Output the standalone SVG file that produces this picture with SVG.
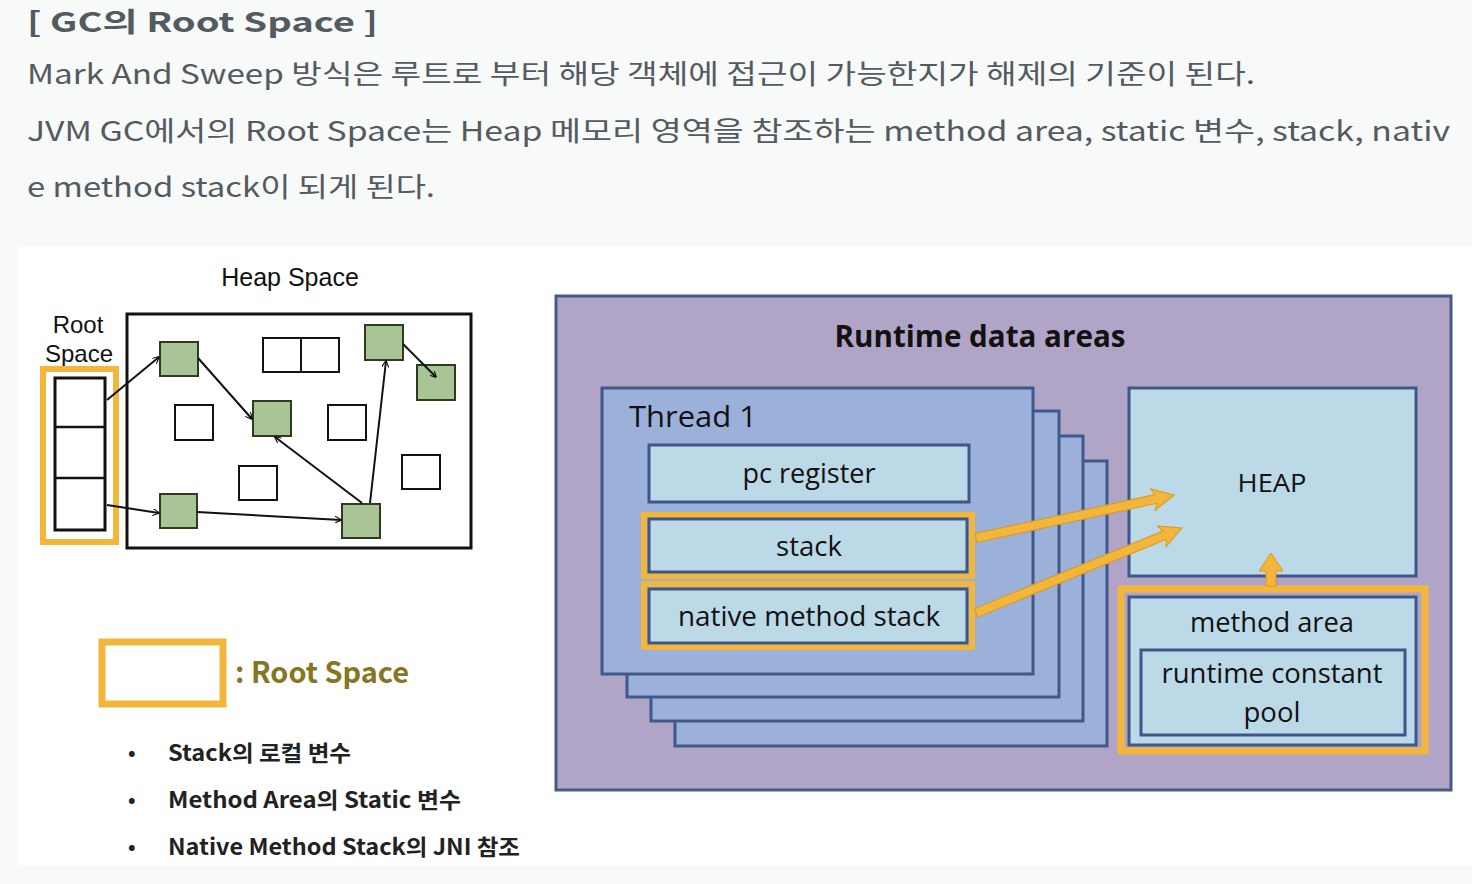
<svg xmlns="http://www.w3.org/2000/svg" width="1472" height="884" viewBox="0 0 1472 884">
<defs>
<style>
.page{font-family:"Noto Sans CJK KR","Noto Sans",sans-serif;fill:#535a60}
.arial{font-family:"Liberation Sans",Arial,sans-serif;fill:#111}
.cal{font-family:"Open Sans","Noto Sans",sans-serif;fill:#111;text-anchor:middle}
.start{text-anchor:start}
.leg{font-family:"Noto Sans CJK KR","Noto Sans",sans-serif;font-weight:bold;fill:#222}
.green{fill:#a9c596;stroke:#2e3a22;stroke-width:2}
.white{fill:#fff;stroke:#111;stroke-width:2}
.link{stroke:#111;stroke-width:2;fill:none;marker-end:url(#open)}
.purple{fill:#b1a5c7;stroke:#465a85;stroke-width:3}
.thread{fill:#9bb1da;stroke:#40598a;stroke-width:3}
.inner{fill:#bcd9e7;stroke:#3f5688;stroke-width:3}
.gold{fill:none;stroke:#f2b63a;stroke-width:6}
.garrow{fill:#f2b63a;stroke:#d99a20;stroke-width:1}
</style>
<marker id="open" viewBox="0 0 10 10" refX="9" refY="5" markerWidth="7" markerHeight="7" orient="auto" markerUnits="userSpaceOnUse">
<path d="M0,0 L10,5 L0,10" fill="none" stroke="#111" stroke-width="1.6"/>
</marker>
</defs>
<rect width="1472" height="884" fill="#f8f9f9"/>
<rect x="18" y="247" width="1454" height="618" fill="#ffffff"/>

<g id="page-text">
<text class="page" x="27" y="32" font-size="27" font-weight="bold" textLength="351" lengthAdjust="spacingAndGlyphs">[ GC의 Root Space ]</text>
<text class="page" x="27" y="84" font-size="27" textLength="1228" lengthAdjust="spacingAndGlyphs">Mark And Sweep 방식은 루트로 부터 해당 객체에 접근이 가능한지가 해제의 기준이 된다.</text>
<text class="page" x="27" y="141" font-size="27" textLength="1423" lengthAdjust="spacingAndGlyphs">JVM GC에서의 Root Space는 Heap 메모리 영역을 참조하는 method area, static 변수, stack, nativ</text>
<text class="page" x="27" y="197" font-size="27" textLength="408" lengthAdjust="spacingAndGlyphs">e method stack이 되게 된다.</text>
</g>

<!-- Left diagram -->
<g id="heap-space-label"><text class="arial" x="290" y="286" font-size="25" text-anchor="middle">Heap Space</text></g>
<g id="root-space-label">
<text class="arial" x="78" y="333" font-size="24" text-anchor="middle">Root</text>
<text class="arial" x="79" y="362" font-size="24" text-anchor="middle">Space</text>
</g>
<g id="heap-box"><rect x="127" y="314" width="344" height="234" fill="#fff" stroke="#111" stroke-width="3"/></g>
<g id="root-stack">
<rect x="43" y="369" width="73" height="173" fill="#fff" stroke="#f2b63a" stroke-width="6"/>
<rect x="55" y="378" width="50" height="152" fill="#fff" stroke="#111" stroke-width="3"/>
<line x1="55" y1="427" x2="105" y2="427" stroke="#111" stroke-width="2.5"/>
<line x1="55" y1="478" x2="105" y2="478" stroke="#111" stroke-width="2.5"/>
</g>
<g id="obj-white">
<rect class="white" x="263" y="338" width="38" height="34"/>
<rect class="white" x="301" y="338" width="38" height="34"/>
<rect class="white" x="175" y="405" width="38" height="35"/>
<rect class="white" x="328" y="405" width="38" height="35"/>
<rect class="white" x="239" y="466" width="38" height="34"/>
<rect class="white" x="402" y="455" width="38" height="34"/>
</g>
<g id="obj-a"><rect class="green" x="160" y="342" width="38" height="34"/></g>
<g id="obj-b"><rect class="green" x="253" y="401" width="38" height="35"/></g>
<g id="obj-c"><rect class="green" x="365" y="325" width="38" height="35"/></g>
<g id="obj-d"><rect class="green" x="417" y="365" width="38" height="35"/></g>
<g id="obj-e"><rect class="green" x="160" y="494" width="37" height="34"/></g>
<g id="obj-f"><rect class="green" x="342" y="504" width="38" height="34"/></g>
<g id="left-connectors">
<line class="link" x1="107" y1="400" x2="159" y2="357"/>
<line class="link" x1="198" y1="358" x2="252" y2="419"/>
<line class="link" x1="362" y1="503" x2="275" y2="437"/>
<line class="link" x1="370" y1="503" x2="386" y2="361"/>
<line class="link" x1="403" y1="344" x2="436" y2="377"/>
<line class="link" x1="107" y1="505" x2="159" y2="513"/>
<line class="link" x1="197" y1="512" x2="341" y2="520"/>
</g>

<!-- Legend -->
<g id="legend">
<rect x="102" y="642" width="121" height="62" fill="#fff" stroke="#f2b63a" stroke-width="7"/>
<text x="235" y="683" font-family="'Noto Sans CJK KR','Noto Sans',sans-serif" font-weight="bold" font-size="29" fill="#86761f" textLength="174" lengthAdjust="spacingAndGlyphs">: Root Space</text>
<text class="leg" x="128" y="760" font-size="20">•</text>
<text class="leg" x="168" y="761" font-size="22" textLength="183" lengthAdjust="spacingAndGlyphs">Stack의 로컬 변수</text>
<text class="leg" x="128" y="807" font-size="20">•</text>
<text class="leg" x="168" y="808" font-size="22" textLength="293" lengthAdjust="spacingAndGlyphs">Method Area의 Static 변수</text>
<text class="leg" x="128" y="854" font-size="20">•</text>
<text class="leg" x="168" y="855" font-size="22" textLength="352" lengthAdjust="spacingAndGlyphs">Native Method Stack의 JNI 참조</text>
</g>

<!-- Right diagram -->
<g id="runtime-data-areas">
<rect class="purple" x="556" y="296" width="895" height="494"/>
<text class="cal" x="980" y="347" font-size="30" font-weight="bold" textLength="291" lengthAdjust="spacingAndGlyphs">Runtime data areas</text>
</g>
<g id="thread-layers">
<rect class="thread" x="675" y="461" width="432" height="285"/>
<rect class="thread" x="651" y="436" width="432" height="285"/>
<rect class="thread" x="627" y="411" width="432" height="286"/>
</g>
<g id="thread-1">
<rect class="thread" x="602" y="388" width="431" height="286"/>
<text class="cal start" x="629" y="427" font-size="30" textLength="128" lengthAdjust="spacingAndGlyphs">Thread 1</text>
</g>
<g id="pc-register">
<rect class="inner" x="649" y="445" width="320" height="57"/>
<text class="cal" x="809" y="483" font-size="27" textLength="133" lengthAdjust="spacingAndGlyphs">pc register</text>
</g>
<g id="stack">
<rect class="gold" x="644" y="515" width="328" height="61"/>
<rect class="inner" x="649" y="519" width="318" height="53"/>
<text class="cal" x="809" y="556" font-size="27" textLength="66" lengthAdjust="spacingAndGlyphs">stack</text>
</g>
<g id="native-method-stack">
<rect class="gold" x="644" y="584" width="328" height="63"/>
<rect class="inner" x="649" y="589" width="318" height="54"/>
<text class="cal" x="809" y="626" font-size="27" textLength="262" lengthAdjust="spacingAndGlyphs">native method stack</text>
</g>
<g id="heap">
<rect class="inner" x="1129" y="388" width="287" height="188"/>
<text class="cal" x="1272" y="492" font-size="26" textLength="69" lengthAdjust="spacingAndGlyphs">HEAP</text>
</g>
<g id="method-area">
<rect fill="none" stroke="#f2b63a" stroke-width="7" x="1121" y="589" width="304" height="162"/>
<rect class="inner" x="1129" y="597" width="287" height="148"/>
<text class="cal" x="1272" y="632" font-size="27" textLength="164" lengthAdjust="spacingAndGlyphs">method area</text>
</g>
<g id="runtime-constant-pool">
<rect class="inner" x="1141" y="650" width="264" height="85"/>
<text class="cal" x="1272" y="683" font-size="27" textLength="221" lengthAdjust="spacingAndGlyphs">runtime constant</text>
<text class="cal" x="1272" y="722" font-size="27" textLength="57" lengthAdjust="spacingAndGlyphs">pool</text>
</g>
<g id="right-connectors">
<g transform="translate(976,538) rotate(-12.25)"><polygon class="garrow" points="0,-4.5 184,-4.5 181,-11 203,0 181,11 184,4.5 0,4.5"/></g>
<g transform="translate(976,613) rotate(-22.42)"><polygon class="garrow" points="0,-4.5 204,-4.5 201,-11 223,0 201,11 204,4.5 0,4.5"/></g>
<polygon class="garrow" points="1266,586 1266,571 1259,571 1271,553 1283,571 1276,571 1276,586"/>
</g>
</svg>
